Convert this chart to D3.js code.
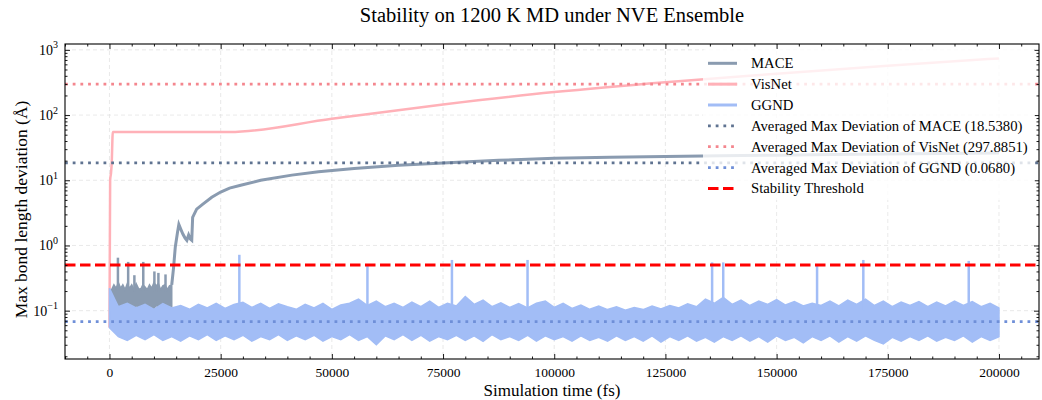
<!DOCTYPE html>
<html>
<head>
<meta charset="utf-8">
<script src="https://cdn.jsdelivr.net/npm/d3@7"></script>
<style>
  body { margin: 0; background: #fff; }
  text { font-family: "Liberation Serif", "Times New Roman", serif; fill: #000; }
</style>
</head>
<body>
<div id="chart"></div>
<script>
// ---- data ----
// VisNet: jumps up right at the start, sits flat, then climbs
const visnetTime  = [0, 150, 350, 500, 750, 27000, 50000, 75000, 100000, 125000, 150000, 175000, 200000];
const visnetValue = [0.055, 10, 13, 18, 55, 55, 88, 145, 225, 320, 430, 570, 740];

// MACE: noisy early band (envelope), its spikes, then the blow-up curve
const maceBandTime  = [500, 1000, 1500, 2000, 2500, 3000, 3500, 4000, 4500, 5000, 5500, 6000, 6500, 7000, 7500, 8000, 8500, 9000, 9500, 10000, 10500, 11000, 11500, 12000, 12500, 13000, 13500, 14000];
const maceBandUpper = [0.21, 0.25, 0.22, 0.27, 0.22, 0.25, 0.21, 0.26, 0.22, 0.25, 0.21, 0.26, 0.22, 0.21, 0.25, 0.23, 0.21, 0.25, 0.22, 0.27, 0.24, 0.26, 0.21, 0.24, 0.25, 0.21, 0.24, 0.25];
const maceBandLower = [0.115, 0.108, 0.12, 0.112, 0.106, 0.12, 0.113, 0.107, 0.121, 0.112, 0.106, 0.12, 0.114, 0.107, 0.12, 0.112, 0.105, 0.12, 0.113, 0.107, 0.121, 0.112, 0.106, 0.12, 0.113, 0.107, 0.12, 0.115];
const maceSpikeTime  = [1900, 4200, 5600, 7600, 10100, 11000, 12600];
const maceSpikeValue = [0.65, 0.56, 0.35, 0.56, 0.40, 0.38, 0.36];
const maceTime  = [14000, 14400, 14800, 15300, 15600, 16000, 16500, 17000, 17400, 17800, 18200, 18500, 18700, 19600, 21000, 23000, 25000, 27000, 29500, 34000, 41000, 47000, 55000, 65000, 75000, 87500, 100000, 112500, 125000, 137500, 150000, 162500, 175000, 187500, 200000];
const maceValue = [0.25, 0.45, 0.95, 1.6, 2.1, 1.8, 1.5, 1.3, 1.2, 1.45, 1.25, 1.2, 2.7, 3.6, 4.3, 5.5, 6.6, 7.6, 8.4, 10.0, 12.0, 13.5, 15.2, 17.0, 18.4, 20.2, 21.8, 22.6, 23.2, 23.8, 24.3, 24.8, 25.3, 25.8, 26.2];

// GGND: stable noisy band (upper / lower envelope) plus isolated spikes
const ggndTime = [0, 2000, 4000, 6000, 8000, 10000, 12000, 14000, 16000, 18000,
  20000, 22000, 24000, 26000, 28000, 30000, 32000, 34000, 36000, 38000,
  40000, 42000, 44000, 46000, 48000, 50000, 52000, 54000, 56000, 58000,
  60000, 62000, 64000, 66000, 68000, 70000, 72000, 74000, 76000, 78000,
  80000, 82000, 84000, 86000, 88000, 90000, 92000, 94000, 96000, 98000,
  100000, 102000, 104000, 106000, 108000, 110000, 112000, 114000, 116000, 118000,
  120000, 122000, 124000, 126000, 128000, 130000, 132000, 134000, 136000, 138000,
  140000, 142000, 144000, 146000, 148000, 150000, 152000, 154000, 156000, 158000,
  160000, 162000, 164000, 166000, 168000, 170000, 172000, 174000, 176000, 178000,
  180000, 182000, 184000, 186000, 188000, 190000, 192000, 194000, 196000, 198000, 200000];
const ggndUpper = [0.22, 0.115, 0.13, 0.11, 0.125, 0.105, 0.128, 0.11, 0.12, 0.105,
  0.125, 0.11, 0.13, 0.108, 0.125, 0.135, 0.112, 0.13, 0.108, 0.128,
  0.115, 0.105, 0.125, 0.11, 0.13, 0.105, 0.122, 0.13, 0.15, 0.12,
  0.14, 0.115, 0.13, 0.112, 0.135, 0.115, 0.14, 0.112, 0.13, 0.118,
  0.165, 0.125, 0.145, 0.115, 0.132, 0.112, 0.128, 0.11, 0.13, 0.14,
  0.112, 0.13, 0.108, 0.122, 0.105, 0.118, 0.104, 0.115, 0.102, 0.112,
  0.104, 0.118, 0.106, 0.12, 0.11, 0.128, 0.115, 0.15, 0.13, 0.16,
  0.125, 0.145, 0.12, 0.14, 0.125, 0.148, 0.122, 0.138, 0.118, 0.13,
  0.12, 0.14, 0.118, 0.145, 0.125, 0.15, 0.12, 0.14, 0.115, 0.135,
  0.12, 0.138, 0.115, 0.135, 0.118, 0.14, 0.12, 0.138, 0.115, 0.13, 0.11];
const ggndLower = [0.055, 0.04, 0.035, 0.042, 0.036, 0.043, 0.035, 0.04, 0.034, 0.041,
  0.036, 0.043, 0.035, 0.041, 0.036, 0.042, 0.034, 0.04, 0.036, 0.043,
  0.035, 0.041, 0.036, 0.042, 0.034, 0.04, 0.036, 0.043, 0.035, 0.04,
  0.03, 0.041, 0.036, 0.043, 0.035, 0.042, 0.034, 0.04, 0.036, 0.042,
  0.035, 0.041, 0.034, 0.043, 0.036, 0.04, 0.035, 0.042, 0.034, 0.041,
  0.036, 0.04, 0.034, 0.041, 0.035, 0.039, 0.034, 0.041, 0.035, 0.04,
  0.034, 0.041, 0.033, 0.04, 0.035, 0.041, 0.034, 0.039, 0.033, 0.04,
  0.035, 0.041, 0.034, 0.04, 0.033, 0.041, 0.035, 0.039, 0.032, 0.04,
  0.035, 0.041, 0.033, 0.04, 0.034, 0.041, 0.035, 0.031, 0.039, 0.034,
  0.04, 0.035, 0.041, 0.034, 0.039, 0.035, 0.041, 0.033, 0.04, 0.035, 0.04];
const ggndSpikeTime  = [29200, 58000, 77000, 94000, 135500, 138000, 159100, 169500, 193200];
const ggndSpikeValue = [0.72, 0.50, 0.60, 0.60, 0.55, 0.55, 0.52, 0.60, 0.58];

// reference lines
const meanNames  = ["MACE", "VisNet", "GGND"];
const meanValues = [18.5380, 297.8851, 0.0680];
const threshold = 0.5;

const xMajorTicks = [0, 25000, 50000, 75000, 100000, 125000, 150000, 175000, 200000];
const yMajorTicks = [0.1, 1, 10, 100, 1000];
const yTickExp = ["\u22121", "0", "1", "2", "3"];

// ---- layout ----
const width = 1042, height = 400;
const margin = { top: 44, right: 3, bottom: 41, left: 65 };
const plotW = width - margin.left - margin.right;
const plotH = height - margin.top - margin.bottom;

const colors = {
  MACE: "#8a9bb0", VisNet: "#ffb1b8", GGND: "#a2bdf6",
  meanMACE: "#5f7391", meanVisNet: "#f4868e", meanGGND: "#6f8fd8",
  thr: "#ff0000"
};

const svg = d3.select("#chart").append("svg")
  .attr("width", width).attr("height", height);

const x = d3.scaleLinear().domain([-10000, 209000]).range([0, plotW]);
const y = d3.scaleLog().domain([Math.pow(10, -1.741), Math.pow(10, 3.09)]).range([plotH, 0]);

const g = svg.append("g").attr("transform", `translate(${margin.left},${margin.top})`);

svg.append("defs").append("clipPath").attr("id", "clip")
  .append("rect").attr("width", plotW).attr("height", plotH);

// grid
const grid = g.append("g");
grid.selectAll(".gx").data(xMajorTicks).enter().append("line")
  .attr("x1", d => x(d)).attr("x2", d => x(d)).attr("y1", 0).attr("y2", plotH)
  .attr("stroke", "#e3e3e3").attr("stroke-width", 0.8).attr("stroke-dasharray", "4,3");
grid.selectAll(".gy").data(yMajorTicks).enter().append("line")
  .attr("x1", 0).attr("x2", plotW).attr("y1", d => y(d)).attr("y2", d => y(d))
  .attr("stroke", "#e3e3e3").attr("stroke-width", 0.8).attr("stroke-dasharray", "4,3");

const plot = g.append("g").attr("clip-path", "url(#clip)");

// MACE
const maceBand = maceBandTime.map((t, i) => ({ t, hi: maceBandUpper[i], lo: maceBandLower[i] }));
plot.append("path").datum(maceBand)
  .attr("d", d3.area().x(d => x(d.t)).y0(d => y(d.lo)).y1(d => y(d.hi)))
  .attr("fill", colors.MACE).attr("stroke", colors.MACE).attr("stroke-width", 1.5);
plot.selectAll(".mspike").data(maceSpikeTime).enter().append("line")
  .attr("x1", d => x(d)).attr("x2", d => x(d))
  .attr("y1", y(0.2)).attr("y2", (d, i) => y(maceSpikeValue[i]))
  .attr("stroke", colors.MACE).attr("stroke-width", 2.5);
plot.append("path").datum(maceTime.map((t, i) => [t, maceValue[i]]))
  .attr("d", d3.line().x(d => x(d[0])).y(d => y(d[1])))
  .attr("fill", "none").attr("stroke", colors.MACE).attr("stroke-width", 3);

// VisNet
plot.append("path").datum(visnetTime.map((t, i) => [t, visnetValue[i]]))
  .attr("d", d3.line().x(d => x(d[0])).y(d => y(d[1])).curve(d3.curveMonotoneX))
  .attr("fill", "none").attr("stroke", colors.VisNet).attr("stroke-width", 2.5);

// GGND
const ggndBand = ggndTime.map((t, i) => ({ t, hi: ggndUpper[i], lo: ggndLower[i] }));
plot.append("path").datum(ggndBand)
  .attr("d", d3.area().x(d => x(d.t)).y0(d => y(d.lo)).y1(d => y(d.hi)))
  .attr("fill", colors.GGND).attr("stroke", colors.GGND).attr("stroke-width", 1.5);
plot.selectAll(".gspike").data(ggndSpikeTime).enter().append("line")
  .attr("x1", d => x(d)).attr("x2", d => x(d))
  .attr("y1", y(0.1)).attr("y2", (d, i) => y(ggndSpikeValue[i]))
  .attr("stroke", colors.GGND).attr("stroke-width", 2.5);

// averaged lines
const meanColors = [colors.meanMACE, colors.meanVisNet, colors.meanGGND];
plot.selectAll(".mean").data(meanValues).enter().append("line")
  .attr("x1", 0).attr("x2", plotW).attr("y1", d => y(d)).attr("y2", d => y(d))
  .attr("stroke", (d, i) => meanColors[i]).attr("stroke-width", 2.8)
  .attr("stroke-dasharray", "2.8,4.9");

// threshold
plot.append("line")
  .attr("x1", 0).attr("x2", plotW).attr("y1", y(threshold)).attr("y2", y(threshold))
  .attr("stroke", colors.thr).attr("stroke-width", 3).attr("stroke-dasharray", "10.5,4.5");

// ---- axes (inward ticks on all sides) ----
const xMinor = d3.range(-10000, 209001, 5000).filter(v => v % 25000 !== 0);
const yMinor = [];
[0.01, 0.1, 1, 10, 100, 1000].forEach(b => { for (let k = 2; k <= 9; k++) yMinor.push(b * k); });
const yMinorIn = yMinor.filter(v => v >= y.domain()[0] && v <= y.domain()[1]);

function styleAxis(sel) {
  sel.select(".domain").remove();
  sel.selectAll(".tick line").attr("stroke", "#000").attr("stroke-width", 0.9);
}

g.append("g").attr("transform", `translate(0,${plotH})`)
  .call(d3.axisBottom(x).tickValues(xMajorTicks).tickSize(-5).tickPadding(8).tickFormat(d3.format("d")))
  .call(styleAxis)
  .selectAll("text").attr("font-size", 13.5).attr("font-family", "Liberation Serif");
g.append("g").attr("transform", `translate(0,${plotH})`)
  .call(d3.axisBottom(x).tickValues(xMinor).tickSize(-2.5).tickFormat(""))
  .call(styleAxis);
g.append("g")
  .call(d3.axisTop(x).tickValues(xMajorTicks).tickSize(-5).tickFormat(""))
  .call(styleAxis);
g.append("g")
  .call(d3.axisTop(x).tickValues(xMinor).tickSize(-2.5).tickFormat(""))
  .call(styleAxis);

g.append("g")
  .call(d3.axisLeft(y).tickValues(yMajorTicks).tickSize(-5).tickFormat(""))
  .call(styleAxis);
g.append("g")
  .call(d3.axisLeft(y).tickValues(yMinorIn).tickSize(-2.5).tickFormat(""))
  .call(styleAxis);
g.append("g").attr("transform", `translate(${plotW},0)`)
  .call(d3.axisRight(y).tickValues(yMajorTicks).tickSize(-5).tickFormat(""))
  .call(styleAxis);
g.append("g").attr("transform", `translate(${plotW},0)`)
  .call(d3.axisRight(y).tickValues(yMinorIn).tickSize(-2.5).tickFormat(""))
  .call(styleAxis);

// y tick labels as 10^n
const yl = g.selectAll(".ylab").data(yMajorTicks).enter().append("text")
  .attr("x", -7).attr("y", d => y(d) + 5)
  .attr("text-anchor", "end").attr("font-size", 14);
yl.append("tspan").text("10");
yl.append("tspan").attr("dy", -6.5).attr("font-size", 10).text((d, i) => yTickExp[i]);

// frame
g.append("rect").attr("width", plotW).attr("height", plotH)
  .attr("fill", "none").attr("stroke", "#000").attr("stroke-width", 1.1);

// labels
svg.append("text").attr("x", margin.left + plotW / 2).attr("y", 22)
  .attr("text-anchor", "middle").attr("font-size", 20.5)
  .text("Stability on 1200 K MD under NVE Ensemble");
svg.append("text").attr("x", margin.left + plotW / 2).attr("y", 396)
  .attr("text-anchor", "middle").attr("font-size", 17)
  .text("Simulation time (fs)");
svg.append("text").attr("transform", `translate(27,${margin.top + plotH / 2 + 8}) rotate(-90)`)
  .attr("text-anchor", "middle").attr("font-size", 17.5)
  .text("Max bond length deviation (\u00c5)");

// ---- legend ----
const legendItems = [
  { label: "MACE", color: colors.MACE, dash: null, w: 3 },
  { label: "VisNet", color: colors.VisNet, dash: null, w: 3 },
  { label: "GGND", color: colors.GGND, dash: null, w: 3 },
  { label: `Averaged Max Deviation of ${meanNames[0]} (${meanValues[0].toFixed(4)})`, color: colors.meanMACE, dash: "2.8,4.9", w: 2.8 },
  { label: `Averaged Max Deviation of ${meanNames[1]} (${meanValues[1].toFixed(4)})`, color: colors.meanVisNet, dash: "2.8,4.9", w: 2.8 },
  { label: `Averaged Max Deviation of ${meanNames[2]} (${meanValues[2].toFixed(4)})`, color: colors.meanGGND, dash: "2.8,4.9", w: 2.8 },
  { label: "Stability Threshold", color: colors.thr, dash: "10.5,4.5", w: 3 }
];
const leg = svg.append("g").attr("transform", "translate(703,49)");
leg.append("rect").attr("width", 332).attr("height", 151).attr("rx", 3)
  .attr("fill", "#fff").attr("fill-opacity", 0.8);
const rows = leg.selectAll(".row").data(legendItems).enter().append("g")
  .attr("transform", (d, i) => `translate(0,${14.3 + i * 20.85})`);
rows.append("line").attr("x1", 5).attr("x2", 34).attr("y1", 0).attr("y2", 0)
  .attr("stroke", d => d.color).attr("stroke-width", d => d.w)
  .attr("stroke-dasharray", d => d.dash);
rows.append("text").attr("x", 48).attr("y", 5).attr("font-size", 14.7).text(d => d.label);
</script>
</body>
</html>
